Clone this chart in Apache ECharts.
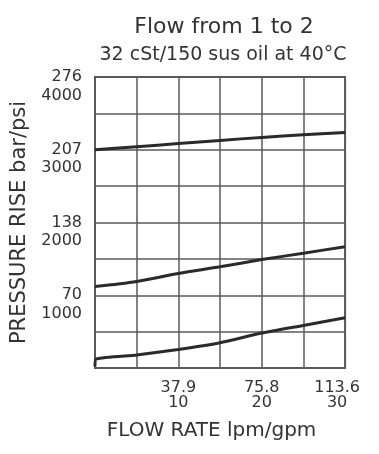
<!DOCTYPE html>
<html>
<head>
<meta charset="utf-8">
<script src="https://cdn.jsdelivr.net/npm/echarts@6/dist/echarts.min.js"></script>
<style>
  html, body { margin: 0; padding: 0; background: #fff; }
  #chart { width: 379px; height: 454px; }
</style>
</head>
<body>
<div id="chart"></div>
<script>
// flow in gpm, pressure rise in psi
const flowGpm = [0, 5, 10, 15, 20, 25, 30];
const curveTop = [3000, 3042, 3085, 3128, 3170, 3205, 3236];
const curveMid = [1120, 1190, 1300, 1392, 1490, 1578, 1668];
const curveLowStart = [[0, 20], [0.15, 125]];
const curveLow = [180, 255, 348, 480, 585, 690];
const curveLowFlow = [5, 10, 15, 20, 25, 30];

// tick labels (metric / imperial)
const xTickLabels = { 10: ['37.9', '10'], 20: ['75.8', '20'], 30: ['113.6', '30'] };
const yTickLabels = { 1000: ['70', '1000'], 2000: ['138', '2000'], 3000: ['207', '3000'], 4000: ['276', '4000'] };

const FONT = 'DejaVu Sans';
const gridColor = '#5a5a5a';

function pairs(xs, ys) {
  return xs.map((x, i) => [x, ys[i]]);
}

const chart = echarts.init(document.getElementById('chart'));

const option = {
  animation: false,
  title: [
    {
      text: 'Flow from 1 to 2',
      left: 224, top: 16, textAlign: 'center', padding: 0,
      textStyle: { fontFamily: FONT, fontSize: 22, fontWeight: 'normal', color: '#333' }
    },
    {
      text: '32 cSt/150 sus oil at 40\u00B0C',
      left: 223, top: 46, textAlign: 'center', padding: 0,
      textStyle: { fontFamily: FONT, fontSize: 19, fontWeight: 'normal', color: '#333' }
    }
  ],
  grid: {
    left: 95, right: 30, top: 77, bottom: 86,
    show: true, borderColor: gridColor, borderWidth: 2, backgroundColor: 'transparent'
  },
  xAxis: {
    type: 'value', min: 0, max: 30, interval: 5,
    name: 'FLOW RATE lpm/gpm', nameLocation: 'middle', nameGap: 53,
    nameTextStyle: { fontFamily: FONT, fontSize: 20, color: '#333', padding: [0, 17, 0, 0] },
    axisLine: { show: true, lineStyle: { color: gridColor, width: 2 } },
    axisTick: { show: false },
    splitLine: { show: true, lineStyle: { color: gridColor, width: 1.5 } },
    axisLabel: {
      margin: 12, fontFamily: FONT, fontSize: 16, color: '#333', lineHeight: 15,
      formatter: v => {
        const l = xTickLabels[v];
        if (!l) return '';
        const k = v === 30 ? 'b' : 'a';
        return '{' + k + '|' + l[0] + '}\n{' + k + '|' + l[1] + '}';
      },
      rich: {
        a: { fontFamily: FONT, fontSize: 16, color: '#333', lineHeight: 15 },
        b: { fontFamily: FONT, fontSize: 16, color: '#333', lineHeight: 15, padding: [0, 16, 0, 0] }
      }
    }
  },
  yAxis: {
    type: 'value', min: 0, max: 4000, interval: 500,
    name: 'PRESSURE RISE bar/psi', nameLocation: 'middle', nameGap: 63, nameRotate: 90,
    nameTextStyle: { fontFamily: FONT, fontSize: 21, color: '#333' },
    axisLine: { show: true, lineStyle: { color: gridColor, width: 2 } },
    axisTick: { show: false },
    splitLine: { show: true, lineStyle: { color: gridColor, width: 1.5 } },
    axisLabel: {
      margin: 13, fontFamily: FONT, fontSize: 16, color: '#333', lineHeight: 18.5,
      verticalAlign: 'middle',
      // blank first line so the bar value sits on the tick and psi below it
      formatter: v => {
        const l = yTickLabels[v];
        return l ? ' \n' + l[0] + '\n' + l[1] : '';
      }
    }
  },
  series: [
    {
      type: 'line', data: pairs(flowGpm, curveTop), showSymbol: false, symbol: 'none',
      smooth: 0.3, lineStyle: { color: '#2a2a2a', width: 3 }
    },
    {
      type: 'line', data: pairs(flowGpm, curveMid), showSymbol: false, symbol: 'none',
      smooth: 0.3, lineStyle: { color: '#2a2a2a', width: 3 }
    },
    {
      type: 'line', data: curveLowStart.concat(pairs(curveLowFlow, curveLow)), showSymbol: false, symbol: 'none',
      smooth: 0.2, lineStyle: { color: '#2a2a2a', width: 3 }
    }
  ]
};

chart.setOption(option);
</script>
</body>
</html>
